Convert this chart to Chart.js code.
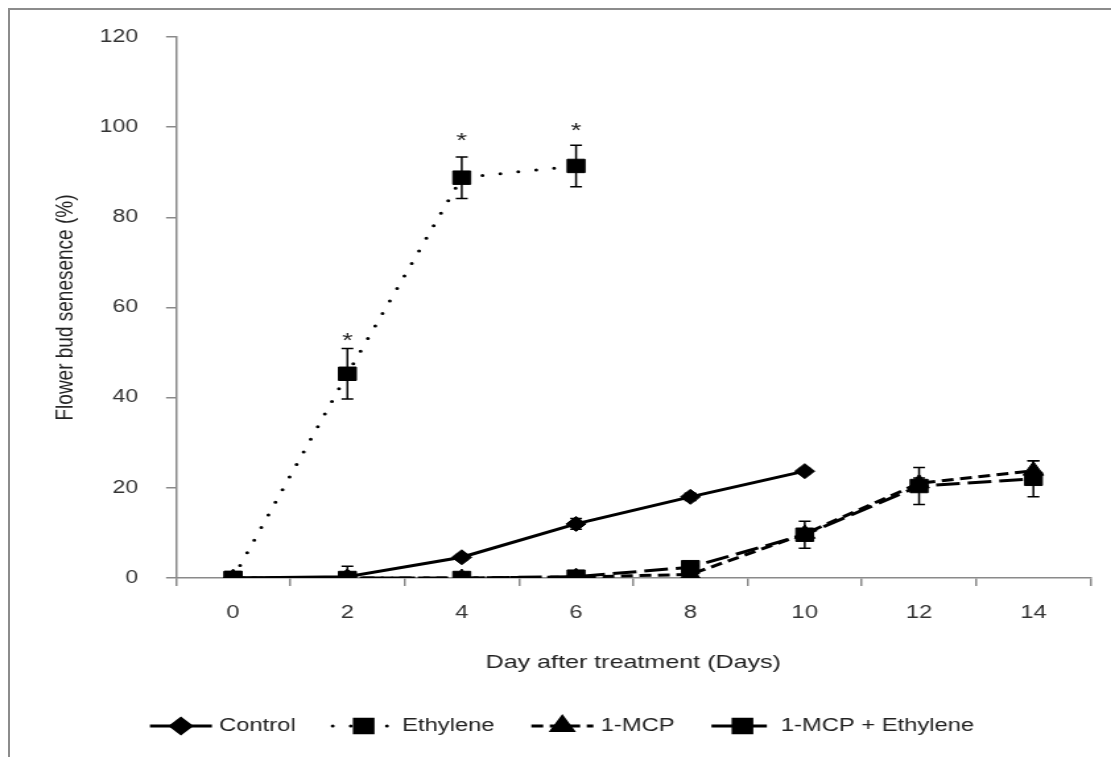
<!DOCTYPE html>
<html>
<head>
<meta charset="utf-8">
<title>Flower bud senescence</title>
<script src="https://cdn.jsdelivr.net/npm/chart.js@4.4.0/dist/chart.umd.min.js"></script>
<style>
  html, body { margin: 0; padding: 0; background: #fff; }
  body { width: 1111px; height: 757px; overflow: hidden; position: relative; }
  #frame {
    position: absolute; left: 8px; top: 8px; width: 1120px; height: 760px;
    border-left: 2px solid #8c8c8c; border-top: 2px solid #8c8c8c;
  }
  /* the figure is laid out narrow and stretched sideways */
  #wrap {
    position: absolute; left: 0; top: 0; width: 842px; height: 757px;
    transform: scaleX(1.3195); transform-origin: 0 0;
  }
</style>
</head>
<body>
<div id="frame"></div>
<div id="wrap"><canvas id="budChart"></canvas></div>
<script>
const days = ['0', '2', '4', '6', '8', '10', '12', '14'];

const control = [0, 0.3, 4.6, 12, 18, 23.7, null, null];
const controlErr = [0, 2.3, 0.6, 1.2, 0.8, 0.6, null, null];

const ethylene = [0, 45.3, 88.8, 91.4, null, null, null, null];
const ethyleneErr = [0, 5.6, 4.6, 4.6, null, null, null, null];

const mcp = [0, 0, 0, 0.2, 0.8, 9.8, 21, 23.8];
const mcpErr = [0, 0, 0, 0, 0.5, 1, 1.2, 2.2];

const mcpEthylene = [0, 0, 0, 0.3, 2.4, 9.6, 20.4, 22];
const mcpEthyleneErr = [0, 0, 0, 0, 0.8, 3, 4.1, 4];

// significance marks (*) and where they sit on the y scale
const starLevels = [null, 53.9, 98.3, 100.5, null, null, null, null];

const yTicks = [0, 20, 40, 60, 80, 100, 120];

const FONT = '"Liberation Sans", Arial, sans-serif';

document.addEventListener('DOMContentLoaded', function() {
    const ctx = document.getElementById('budChart');

    function series(label, data, errors, dash, style, radius, order) {
        return {
            label: label,
            data: data,
            errors: errors,
            borderColor: '#000',
            backgroundColor: '#000',
            borderWidth: 3,
            borderDash: dash,
            borderCapStyle: dash.length && dash[0] === 0 ? 'round' : 'butt',
            pointStyle: style,
            pointRadius: radius,
            pointHoverRadius: radius,
            pointBackgroundColor: '#000',
            pointBorderColor: '#000',
            pointBorderWidth: 1,
            tension: 0,
            fill: false,
            order: order
        };
    }

    // vertical error bars with caps, plus the * marks
    const errorBars = {
        id: 'errorBars',
        afterDatasetsDraw(chart) {
            const c = chart.ctx;
            const x = chart.scales.x;
            const y = chart.scales.y;
            c.save();
            c.strokeStyle = '#000';
            c.lineWidth = 1.5;
            chart.data.datasets.forEach(ds => {
                ds.data.forEach((v, i) => {
                    const e = ds.errors[i];
                    if (v === null || !e) return;
                    const px = x.getPixelForValue(i);
                    const top = y.getPixelForValue(v + e);
                    const bot = y.getPixelForValue(Math.max(v - e, 0));
                    c.beginPath();
                    c.moveTo(px, top); c.lineTo(px, bot);
                    c.moveTo(px - 4.5, top); c.lineTo(px + 4.5, top);
                    if (v - e > 0) { c.moveTo(px - 4.5, bot); c.lineTo(px + 4.5, bot); }
                    c.stroke();
                });
            });
            c.fillStyle = '#222';
            c.font = '21px ' + FONT;
            c.textAlign = 'center';
            c.textBaseline = 'alphabetic';
            starLevels.forEach((lvl, i) => {
                if (lvl === null) return;
                c.fillText('*', x.getPixelForValue(i), y.getPixelForValue(lvl) + 12);
            });
            c.restore();
        }
    };

    // legend row: line sample with its marker, then the name
    const lineLegend = {
        id: 'lineLegend',
        afterDraw(chart) {
            const c = chart.ctx;
            const rowY = 726;
            const sample = 47;
            let cx = 113.6;
            c.save();
            c.font = '18px ' + FONT;
            c.textBaseline = 'middle';
            c.textAlign = 'left';
            chart.data.datasets.forEach(ds => {
                c.strokeStyle = '#000';
                c.lineWidth = ds.borderWidth;
                c.lineCap = ds.borderCapStyle;
                c.setLineDash(ds.borderDash);
                c.beginPath();
                c.moveTo(cx, rowY);
                c.lineTo(cx + sample, rowY);
                c.stroke();
                c.setLineDash([]);
                c.fillStyle = '#000';
                Chart.helpers.drawPoint(c, {
                    pointStyle: ds.pointStyle,
                    radius: ds.pointRadius,
                    rotation: 0,
                    borderWidth: 1
                }, cx + sample / 2, rowY);
                c.fillStyle = '#222';
                c.fillText(ds.label, cx + sample + 5.5, rowY);
                cx += sample + 5.5 + c.measureText(ds.label).width + 28;
            });
            c.restore();
        }
    };

    new Chart(ctx, {
        type: 'line',
        data: {
            labels: days,
            datasets: [
                series('Control', control, controlErr, [], 'rectRot', 7.5, 4),
                series('Ethylene', ethylene, ethyleneErr, [0, 13.7], 'rect', 9.5, 3),
                series('1-MCP', mcp, mcpErr, [9, 5], 'triangle', 9, 2),
                series('1-MCP + Ethylene', mcpEthylene, mcpEthyleneErr, [18, 6], 'rect', 9.5, 1)
            ]
        },
        options: {
            responsive: true,
            maintainAspectRatio: false,
            animation: false,
            layout: { padding: { top: 37, right: 15.5, bottom: 75, left: 0 } },
            plugins: {
                legend: { display: false },
                tooltip: { enabled: false }
            },
            scales: {
                x: {
                    type: 'category',
                    offset: true,
                    grid: {
                        offset: true,
                        drawOnChartArea: false,
                        drawTicks: true,
                        tickLength: 8,
                        color: '#8a8a8a',
                        lineWidth: 1.5
                    },
                    border: { color: '#8a8a8a', width: 1.5 },
                    ticks: {
                        color: '#333',
                        font: { family: FONT, size: 18 },
                        padding: 16,
                        maxRotation: 0
                    },
                    title: {
                        display: true,
                        text: 'Day after treatment (Days)',
                        color: '#222',
                        font: { family: FONT, size: 19 },
                        padding: { top: 0, bottom: 8 }
                    },
                    afterFit(scale) { scale.height = 104; }
                },
                y: {
                    min: 0,
                    max: 120,
                    afterBuildTicks(scale) { scale.ticks = yTicks.map(v => ({ value: v })); },
                    grid: {
                        drawOnChartArea: false,
                        drawTicks: true,
                        tickLength: 7.5,
                        color: '#8a8a8a',
                        lineWidth: 1.5
                    },
                    border: { color: '#8a8a8a', width: 1.5 },
                    ticks: {
                        color: '#333',
                        font: { family: FONT, size: 17.5 },
                        padding: 21
                    },
                    title: {
                        display: true,
                        text: 'Flower bud senesence (%)',
                        color: '#222',
                        font: { family: FONT, size: 19 },
                        padding: { top: 38, bottom: 0 }
                    },
                    afterFit(scale) { scale.width = 133.3; }
                }
            }
        },
        plugins: [errorBars, lineLegend]
    });
});
</script>
</body>
</html>
